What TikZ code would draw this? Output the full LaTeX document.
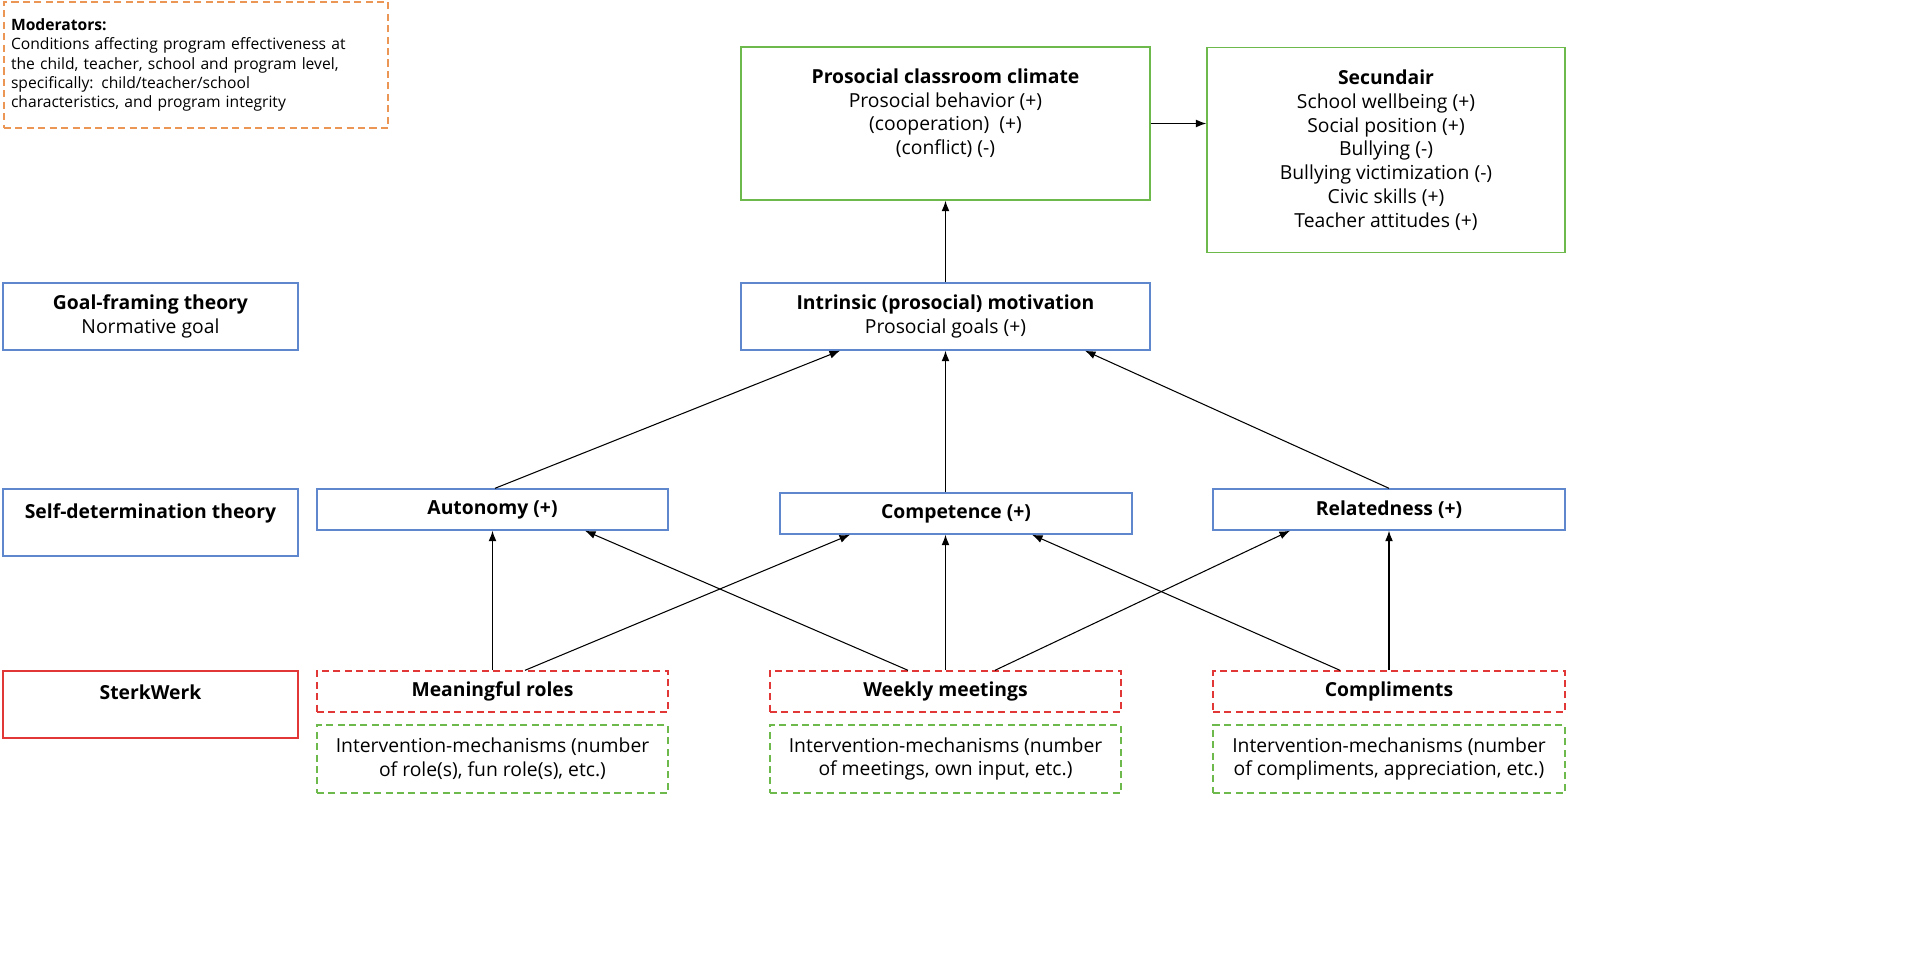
\documentclass[tikz,border=0pt]{standalone}
\usepackage{fontspec}
\setmainfont{Open Sans}
\usepackage{tikz}
\usetikzlibrary{arrows.meta}
\definecolor{bbox}{RGB}{95,135,205}
\definecolor{gbox}{RGB}{110,185,75}
\definecolor{rbox}{RGB}{225,55,55}
\definecolor{obox}{RGB}{235,150,85}

\begin{document}
\begin{tikzpicture}[x=0.02cm,y=-0.02cm,
  every node/.style={font=\fontsize{11}{13.5}\selectfont, align=center, inner sep=0pt, line width=0.8pt},
  blue/.style={draw=bbox},
  green/.style={draw=gbox},
  red/.style={draw=rbox},
  dashbox/.style={dash pattern=on 4pt off 2.5pt},
  arr/.style={-{Latex[length=6pt,width=4.5pt]}, line width=0.6pt}]
\useasboundingbox (0,0) rectangle (1920,974);

\node[draw=obox, dashbox, minimum width=7.68cm, minimum height=2.52cm, align=left,
  font=\fontsize{8.9}{10.9}\selectfont, text width=7.4cm] (mod) at (196,65)
  {\textbf{Moderators:}\\Conditions affecting program effectiveness at\\the child, teacher, school and program level,\\specifically: child/teacher/school\\characteristics, and program integrity};

\node[green, minimum width=8.18cm, minimum height=3.06cm] (climate) at (945.5,123.5)
  {\textbf{Prosocial classroom climate}\\Prosocial behavior (+)\\(cooperation)~ (+)\\(conflict) (-)\\\mbox{}};
\node[green, minimum width=7.16cm, minimum height=4.1cm, anchor=north] (sec) at (1386,47)
  {\textbf{Secundair}\\School wellbeing (+)\\Social position (+)\\Bullying (-)\\Bullying victimization (-)\\Civic skills (+)\\Teacher attitudes (+)};

\node[blue, minimum width=5.9cm, minimum height=1.34cm] (goal) at (150.5,316.5)
  {\textbf{Goal-framing theory}\\Normative goal};
\node[blue, minimum width=8.18cm, minimum height=1.34cm] (intr) at (945.5,316.5)
  {\textbf{Intrinsic (prosocial) motivation}\\Prosocial goals (+)};

\node[blue, minimum width=5.9cm, minimum height=1.34cm] (sdt) at (150.5,522.5)
  {\textbf{Self-determination theory}\\\mbox{}};
\node[blue, minimum width=7.02cm, minimum height=0.82cm] (aut) at (492.5,509.5) {\textbf{Autonomy (+)}};
\node[blue, minimum width=7.04cm, minimum height=0.82cm] (comp) at (956,513.5) {\textbf{Competence (+)}};
\node[blue, minimum width=7.04cm, minimum height=0.82cm] (rel) at (1389,509.5) {\textbf{Relatedness (+)}};

\node[red, minimum width=5.9cm, minimum height=1.34cm] (sterk) at (150.5,704.5)
  {\textbf{SterkWerk}\\\mbox{}};
\node[red, dashbox, minimum width=7.02cm, minimum height=0.82cm] (roles) at (492.5,691.5) {\textbf{Meaningful roles}};
\node[red, dashbox, minimum width=7.02cm, minimum height=0.82cm] (meet) at (945.5,691.5) {\textbf{Weekly meetings}};
\node[red, dashbox, minimum width=7.04cm, minimum height=0.82cm] (compl) at (1389,691.5) {\textbf{Compliments}};

\node[green, dashbox, minimum width=7.02cm, minimum height=1.36cm] (mroles) at (492.5,759)
  {Intervention-mechanisms (number\\of role(s), fun role(s), etc.)};
\node[green, dashbox, minimum width=7.02cm, minimum height=1.36cm] (mmeet) at (945.5,759)
  {Intervention-mechanisms (number\\of meetings, own input, etc.)};
\node[green, dashbox, minimum width=7.04cm, minimum height=1.36cm] (mcompl) at (1389,759)
  {Intervention-mechanisms (number\\of compliments, appreciation, etc.)};

% connectors
\draw[arr] (climate.east) -- (sec.west |- climate.east);
\draw[arr] (intr.north) -- (climate.south);
\draw[arr] ([xshift=0.05cm]aut.north) -- ([xshift=-2.11cm]intr.south);
\draw[arr] (comp.north -| intr.south) -- (intr.south);
\draw[arr] (rel.north) -- ([xshift=2.79cm]intr.south);
\draw[arr] (roles.north) -- (aut.south);
\draw[arr] ([xshift=0.65cm]roles.north) -- ([xshift=-2.12cm]comp.south);
\draw[arr] ([xshift=-0.75cm]meet.north) -- ([xshift=1.85cm]aut.south);
\draw[arr] (meet.north) -- (meet.north |- comp.south);
\draw[arr] ([xshift=0.99cm]meet.north) -- ([xshift=-1.98cm]rel.south);
\draw[arr] ([xshift=-0.98cm]compl.north) -- ([xshift=1.52cm]comp.south);
\draw[arr] (compl.north) -- (rel.south);
\end{tikzpicture}
\end{document}
